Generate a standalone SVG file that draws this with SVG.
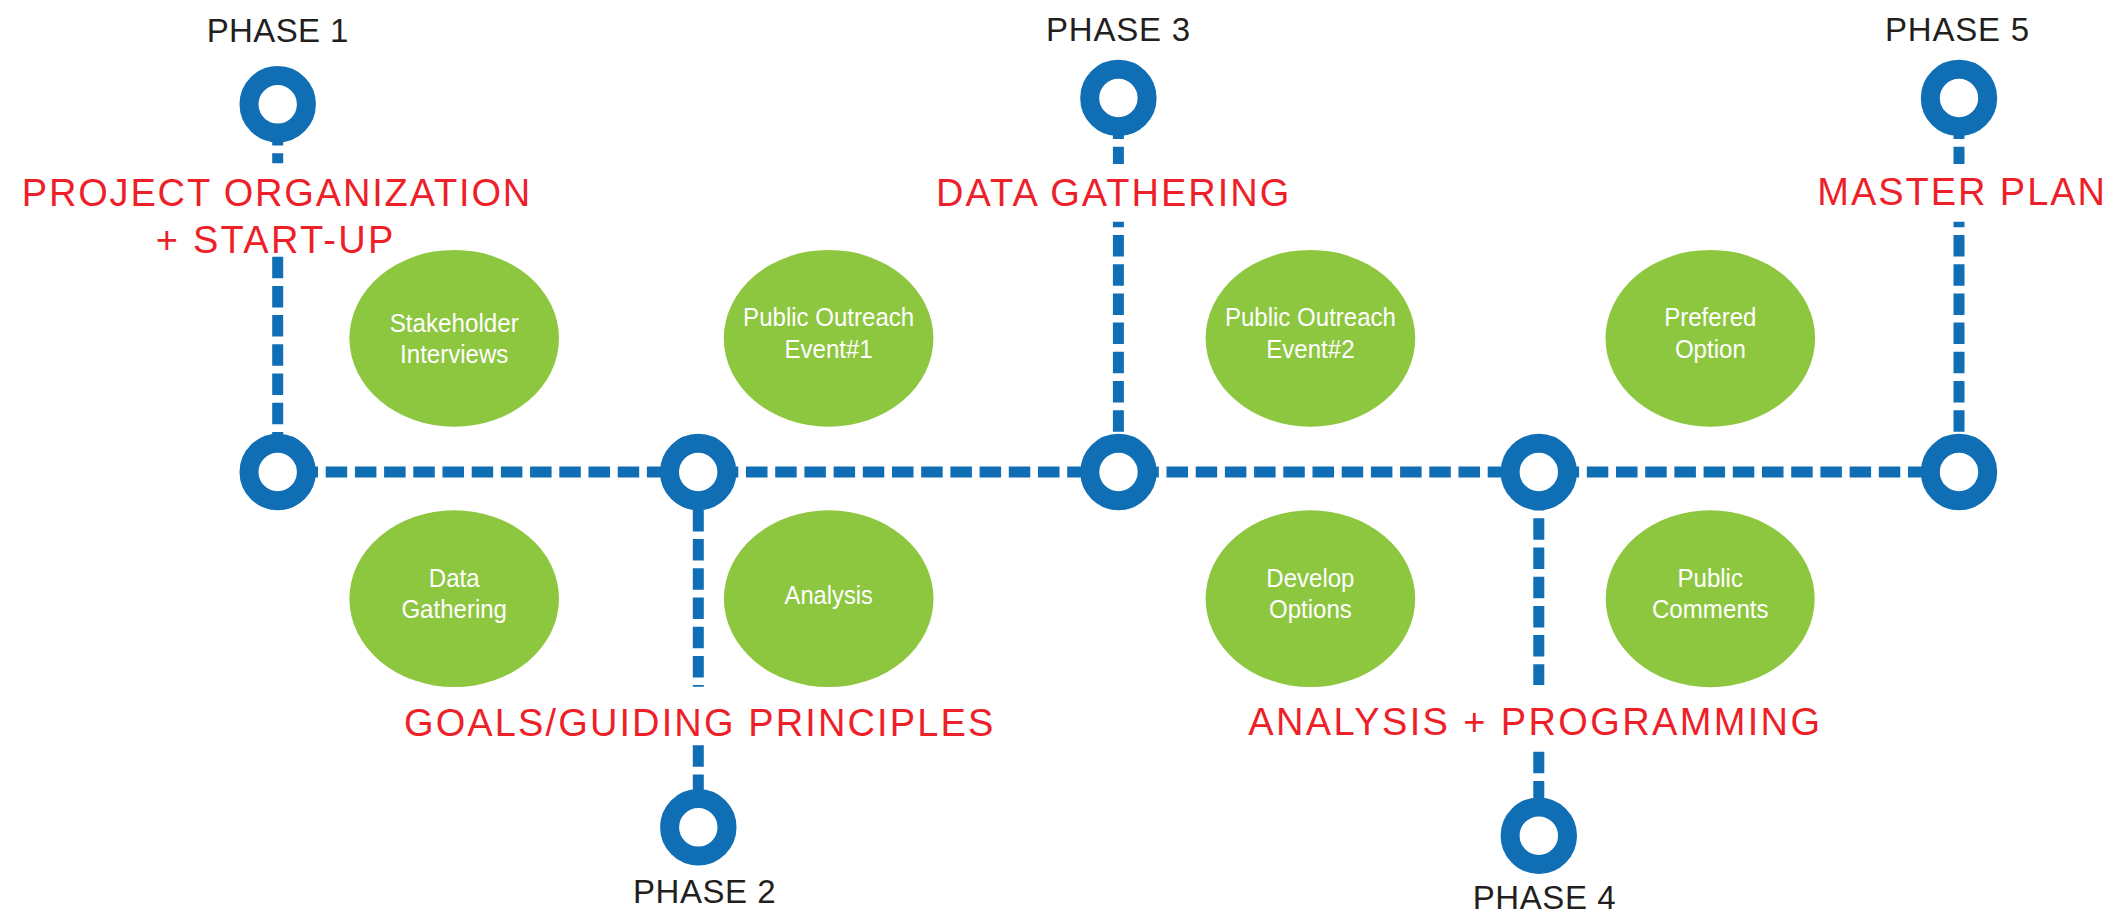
<svg xmlns="http://www.w3.org/2000/svg" width="2116" height="915" viewBox="0 0 2116 915">
<style>
.ring{fill:#fff;stroke:#106EB4;stroke-width:19}
.dash{stroke:#106EB4;stroke-width:11;stroke-dasharray:21.5 7.7;fill:none}
.task{fill:#8DC63F}
.tt{font-family:"Liberation Sans",Arial,sans-serif;font-size:26px;fill:#fff;text-anchor:start}
.ph{font-family:"Liberation Sans",Arial,sans-serif;font-size:33px;fill:#231F20}
.st{font-family:"Liberation Sans",Arial,sans-serif;font-size:38px;fill:#ED1F29}
</style>
<rect width="2116" height="915" fill="#fff"/>
<g id="connectors">
<line class="dash" x1="296.5" y1="472" x2="698" y2="472"/>
<line class="dash" x1="716.8" y1="472" x2="1118.5" y2="472"/>
<line class="dash" x1="1137.3" y1="472" x2="1538.8" y2="472"/>
<line class="dash" x1="1557.6" y1="472" x2="1959" y2="472"/>
<line class="dash" x1="277.7" y1="124.1" x2="277.7" y2="163.3"/>
<line class="dash" x1="277.7" y1="256.7" x2="277.7" y2="472"/>
<line class="dash" x1="1118.4" y1="117.5" x2="1118.4" y2="164"/>
<line class="dash" x1="1118.4" y1="221.7" x2="1118.4" y2="472" style="stroke-dashoffset:15.9"/>
<line class="dash" x1="1959" y1="117.5" x2="1959" y2="164"/>
<line class="dash" x1="1959" y1="221.7" x2="1959" y2="472" style="stroke-dashoffset:15.9"/>
<line class="dash" x1="698.3" y1="509.9" x2="698.3" y2="686.7"/>
<line class="dash" x1="698.3" y1="745.3" x2="698.3" y2="827"/>
<line class="dash" x1="1538.8" y1="489.1" x2="1538.8" y2="685"/>
<line class="dash" x1="1538.8" y1="751.7" x2="1538.8" y2="835"/>
</g>
<g id="phase1">
<circle class="ring" cx="277.7" cy="104.3" r="28.7"/>
<text class="ph" x="206.7" y="41.7" textLength="141.6" lengthAdjust="spacing">PHASE 1</text>
<text class="st" x="21.7" y="205.5" textLength="508.6" lengthAdjust="spacing">PROJECT ORGANIZATION</text>
<text class="st" x="155.7" y="252.5" textLength="237.6" lengthAdjust="spacing">+ START-UP</text>
</g>
<g id="phase2">
<circle class="ring" cx="698.3" cy="827.3" r="28.7"/>
<text class="ph" x="633" y="902.7" textLength="142.7" lengthAdjust="spacing">PHASE 2</text>
<text class="st" x="404" y="735.7" textLength="589.3" lengthAdjust="spacing">GOALS/GUIDING PRINCIPLES</text>
</g>
<g id="phase3">
<circle class="ring" cx="1118.4" cy="98" r="28.7"/>
<text class="ph" x="1046" y="41" textLength="144" lengthAdjust="spacing">PHASE 3</text>
<text class="st" x="936" y="205.5" textLength="353.3" lengthAdjust="spacing">DATA GATHERING</text>
</g>
<g id="phase4">
<circle class="ring" cx="1538.8" cy="835.7" r="28.7"/>
<text class="ph" x="1472.7" y="908.5" textLength="143" lengthAdjust="spacing">PHASE 4</text>
<text class="st" x="1248.3" y="735" textLength="571.7" lengthAdjust="spacing">ANALYSIS + PROGRAMMING</text>
</g>
<g id="phase5">
<circle class="ring" cx="1959" cy="98" r="28.7"/>
<text class="ph" x="1885" y="41" textLength="144" lengthAdjust="spacing">PHASE 5</text>
<text class="st" x="1817.3" y="205" textLength="287.7" lengthAdjust="spacing">MASTER PLAN</text>
</g>
<g id="junction1"><circle class="ring" cx="277.7" cy="472" r="28.7"/></g>
<g id="junction2"><circle class="ring" cx="698.2" cy="472" r="28.7"/></g>
<g id="junction3"><circle class="ring" cx="1118.5" cy="472" r="28.7"/></g>
<g id="junction4"><circle class="ring" cx="1538.8" cy="472" r="28.7"/></g>
<g id="junction5"><circle class="ring" cx="1959" cy="472" r="28.7"/></g>
<g id="task-stakeholder">
<ellipse class="task" cx="454.2" cy="338.3" rx="104.8" ry="88.4"/>
<text class="tt" x="389.7" y="331.7" textLength="129" lengthAdjust="spacingAndGlyphs">Stakeholder</text>
<text class="tt" x="400.1" y="363.3" textLength="108.2" lengthAdjust="spacingAndGlyphs">Interviews</text>
</g>
<g id="task-outreach1">
<ellipse class="task" cx="828.6" cy="338.3" rx="104.8" ry="88.4"/>
<text class="tt" x="743.1" y="326" textLength="171.1" lengthAdjust="spacingAndGlyphs">Public Outreach</text>
<text class="tt" x="784.5" y="357.6" textLength="88.2" lengthAdjust="spacingAndGlyphs">Event#1</text>
</g>
<g id="task-outreach2">
<ellipse class="task" cx="1310.4" cy="338.3" rx="104.8" ry="88.4"/>
<text class="tt" x="1224.9" y="326" textLength="171.1" lengthAdjust="spacingAndGlyphs">Public Outreach</text>
<text class="tt" x="1266.3" y="357.6" textLength="88.2" lengthAdjust="spacingAndGlyphs">Event#2</text>
</g>
<g id="task-prefered">
<ellipse class="task" cx="1710.3" cy="338.3" rx="104.8" ry="88.4"/>
<text class="tt" x="1664.2" y="326" textLength="92.2" lengthAdjust="spacingAndGlyphs">Prefered</text>
<text class="tt" x="1674.9" y="357.6" textLength="70.9" lengthAdjust="spacingAndGlyphs">Option</text>
</g>
<g id="task-data">
<ellipse class="task" cx="454.2" cy="598.7" rx="104.8" ry="88.4"/>
<text class="tt" x="428.8" y="586.7" textLength="50.8" lengthAdjust="spacingAndGlyphs">Data</text>
<text class="tt" x="401.4" y="618.3" textLength="105.6" lengthAdjust="spacingAndGlyphs">Gathering</text>
</g>
<g id="task-analysis">
<ellipse class="task" cx="828.7" cy="598.7" rx="104.8" ry="88.4"/>
<text class="tt" x="784.6" y="604" textLength="88.3" lengthAdjust="spacingAndGlyphs">Analysis</text>
</g>
<g id="task-develop">
<ellipse class="task" cx="1310.4" cy="598.7" rx="104.8" ry="88.4"/>
<text class="tt" x="1266.3" y="586.7" textLength="88.2" lengthAdjust="spacingAndGlyphs">Develop</text>
<text class="tt" x="1269" y="618.3" textLength="82.9" lengthAdjust="spacingAndGlyphs">Options</text>
</g>
<g id="task-comments">
<ellipse class="task" cx="1710.2" cy="598.8" rx="104.5" ry="88.5"/>
<text class="tt" x="1677.5" y="586.7" textLength="65.5" lengthAdjust="spacingAndGlyphs">Public</text>
<text class="tt" x="1651.9" y="618.3" textLength="116.7" lengthAdjust="spacingAndGlyphs">Comments</text>
</g>
</svg>
